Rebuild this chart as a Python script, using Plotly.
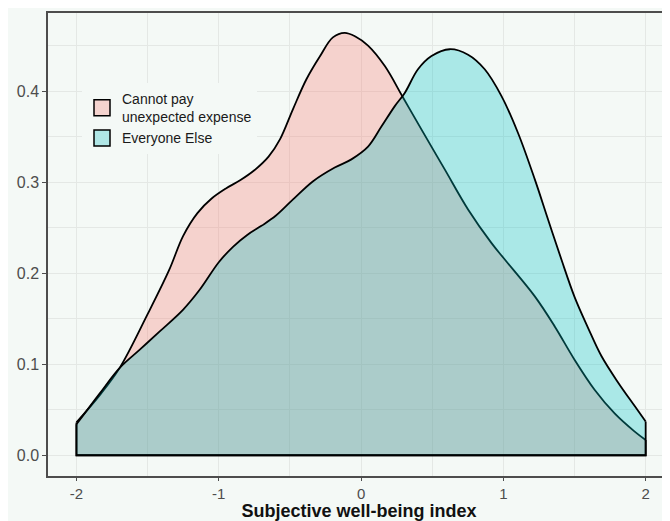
import plotly.graph_objects as go

# Density curve of "Cannot pay unexpected expense"
red_x = [-2.0, -1.836, -1.696, -1.5, -1.35, -1.25, -1.15, -1.05, -0.95, -0.85, -0.75, -0.65,
         -0.57, -0.479, -0.384, -0.29, -0.198, -0.115, -0.04, 0.049, 0.167, 0.295, 0.424,
         0.588, 0.752, 0.917, 1.01, 1.221, 1.361, 1.5, 1.641, 1.782, 1.923, 2.0]
red_y = [0.036, 0.066, 0.096, 0.155, 0.203, 0.241, 0.266, 0.282, 0.293, 0.302, 0.313, 0.328,
         0.347, 0.380, 0.413, 0.438, 0.459, 0.464, 0.460, 0.450, 0.4275, 0.393, 0.358,
         0.314, 0.270, 0.233, 0.215, 0.1745, 0.1415, 0.105, 0.072, 0.046, 0.026, 0.0168]

# Density curve of "Everyone Else"
cyan_x = [-2.0, -1.836, -1.696, -1.555, -1.415, -1.25, -1.133, -1.0, -0.9, -0.8, -0.7, -0.6,
          -0.478, -0.337, -0.185, -0.068, 0.049, 0.143, 0.237, 0.307, 0.40, 0.495, 0.623,
          0.752, 0.869, 0.987, 1.103, 1.221, 1.314, 1.408, 1.5, 1.595, 1.689, 1.806, 1.923, 2.0]
cyan_y = [0.034, 0.068, 0.096, 0.116, 0.136, 0.160, 0.182, 0.212, 0.229, 0.242, 0.252, 0.263,
          0.281, 0.301, 0.316, 0.325, 0.339, 0.361, 0.3835, 0.398, 0.424, 0.4385, 0.446,
          0.440, 0.424, 0.3945, 0.354, 0.303, 0.259, 0.215, 0.174, 0.140, 0.109, 0.080, 0.054, 0.037]

series_names = ["Cannot pay<br>unexpected expense", "Everyone Else"]
x_ticks = [-2, -1, 0, 1, 2]
x_ticklabels = ["-2", "-1", "0", "1", "2"]
y_ticks = [0.0, 0.1, 0.2, 0.3, 0.4]
y_ticklabels = ["0.0", "0.1", "0.2", "0.3", "0.4"]

FONT = "Liberation Sans, Arial, sans-serif"
BG = "#F4F9F6"
GRID = "#E4E8E5"
AX = "#4D4D4D"
fills = ["rgba(248,118,109,0.3)", "rgba(0,191,196,0.3)"]
legend_fill = ["#F4D3CE", "#AFE6E5"]

fig = go.Figure()

for xs, ys, fc in [(red_x, red_y, fills[0]), (cyan_x, cyan_y, fills[1])]:
    fig.add_trace(go.Scatter(
        x=xs, y=ys, mode="lines", fill="tozeroy", fillcolor=fc,
        line=dict(color="black", width=1.8, shape="spline", smoothing=1.0),
        showlegend=False, hoverinfo="skip"))
    fig.add_trace(go.Scatter(
        x=[xs[0], xs[0], xs[-1], xs[-1]], y=[ys[0], 0, 0, ys[-1]],
        mode="lines", line=dict(color="black", width=1.8),
        showlegend=False, hoverinfo="skip"))

for name, lc in zip(series_names, legend_fill):
    fig.add_trace(go.Scatter(
        x=[None], y=[None], mode="markers", name=name,
        marker=dict(symbol="square", size=16, color=lc,
                    line=dict(color="black", width=1.5))))

OFF = 8  # page body margin
W, H = 662, 513
L, R, T, B = 40, 0, 5, 45
pw, ph = W - L - R, H - T - B

def px_x(p):
    return (p - OFF - L) / pw

def px_y(p):
    return (H - B - (p - OFF)) / ph

shapes = [
    dict(type="rect", xref="paper", yref="paper", x0=px_x(77), x1=px_x(260), y0=px_y(147), y1=px_y(65),
         fillcolor=BG, line=dict(width=0), layer="between"),
]

fig.update_layout(
    width=W, height=H,
    margin=dict(l=L, r=R, t=T, b=B, pad=0),
    paper_bgcolor=BG, plot_bgcolor=BG,
    font=dict(family=FONT, size=15, color=AX),
    shapes=shapes,
    showlegend=True,
    legend=dict(x=px_x(82), y=px_y(83), xanchor="left", yanchor="top",
                bgcolor=BG, borderwidth=0, tracegroupgap=0,
                font=dict(family=FONT, size=14, color="#1A1A1A"),
                itemsizing="trace"),
    xaxis=dict(range=[-2.2, 2.171], tickvals=x_ticks, ticktext=x_ticklabels,
               showgrid=True, gridcolor=GRID, gridwidth=1,
               minor=dict(showgrid=True, gridcolor=GRID, gridwidth=1, dtick=0.5, tick0=-2),
               showline=True, linecolor=AX, linewidth=1.5, mirror=True,
               ticks="outside", ticklen=3, tickcolor=AX, tickwidth=1,
               zeroline=False, tickfont=dict(size=15, color=AX),
               title=dict(text="<b>Subjective well-being index</b>", standoff=4,
                          font=dict(size=18, color="#111111", family=FONT))),
    yaxis=dict(range=[-0.0228, 0.4858], tickvals=y_ticks, ticktext=y_ticklabels,
               showgrid=True, gridcolor=GRID, gridwidth=1,
               minor=dict(showgrid=True, gridcolor=GRID, gridwidth=1, dtick=0.05, tick0=0),
               showline=True, linecolor=AX, linewidth=1.5,
               ticks="outside", ticklen=4, tickcolor=AX, tickwidth=1,
               zeroline=False, tickfont=dict(size=16, color=AX)),
)

fig.write_html("out.html")
